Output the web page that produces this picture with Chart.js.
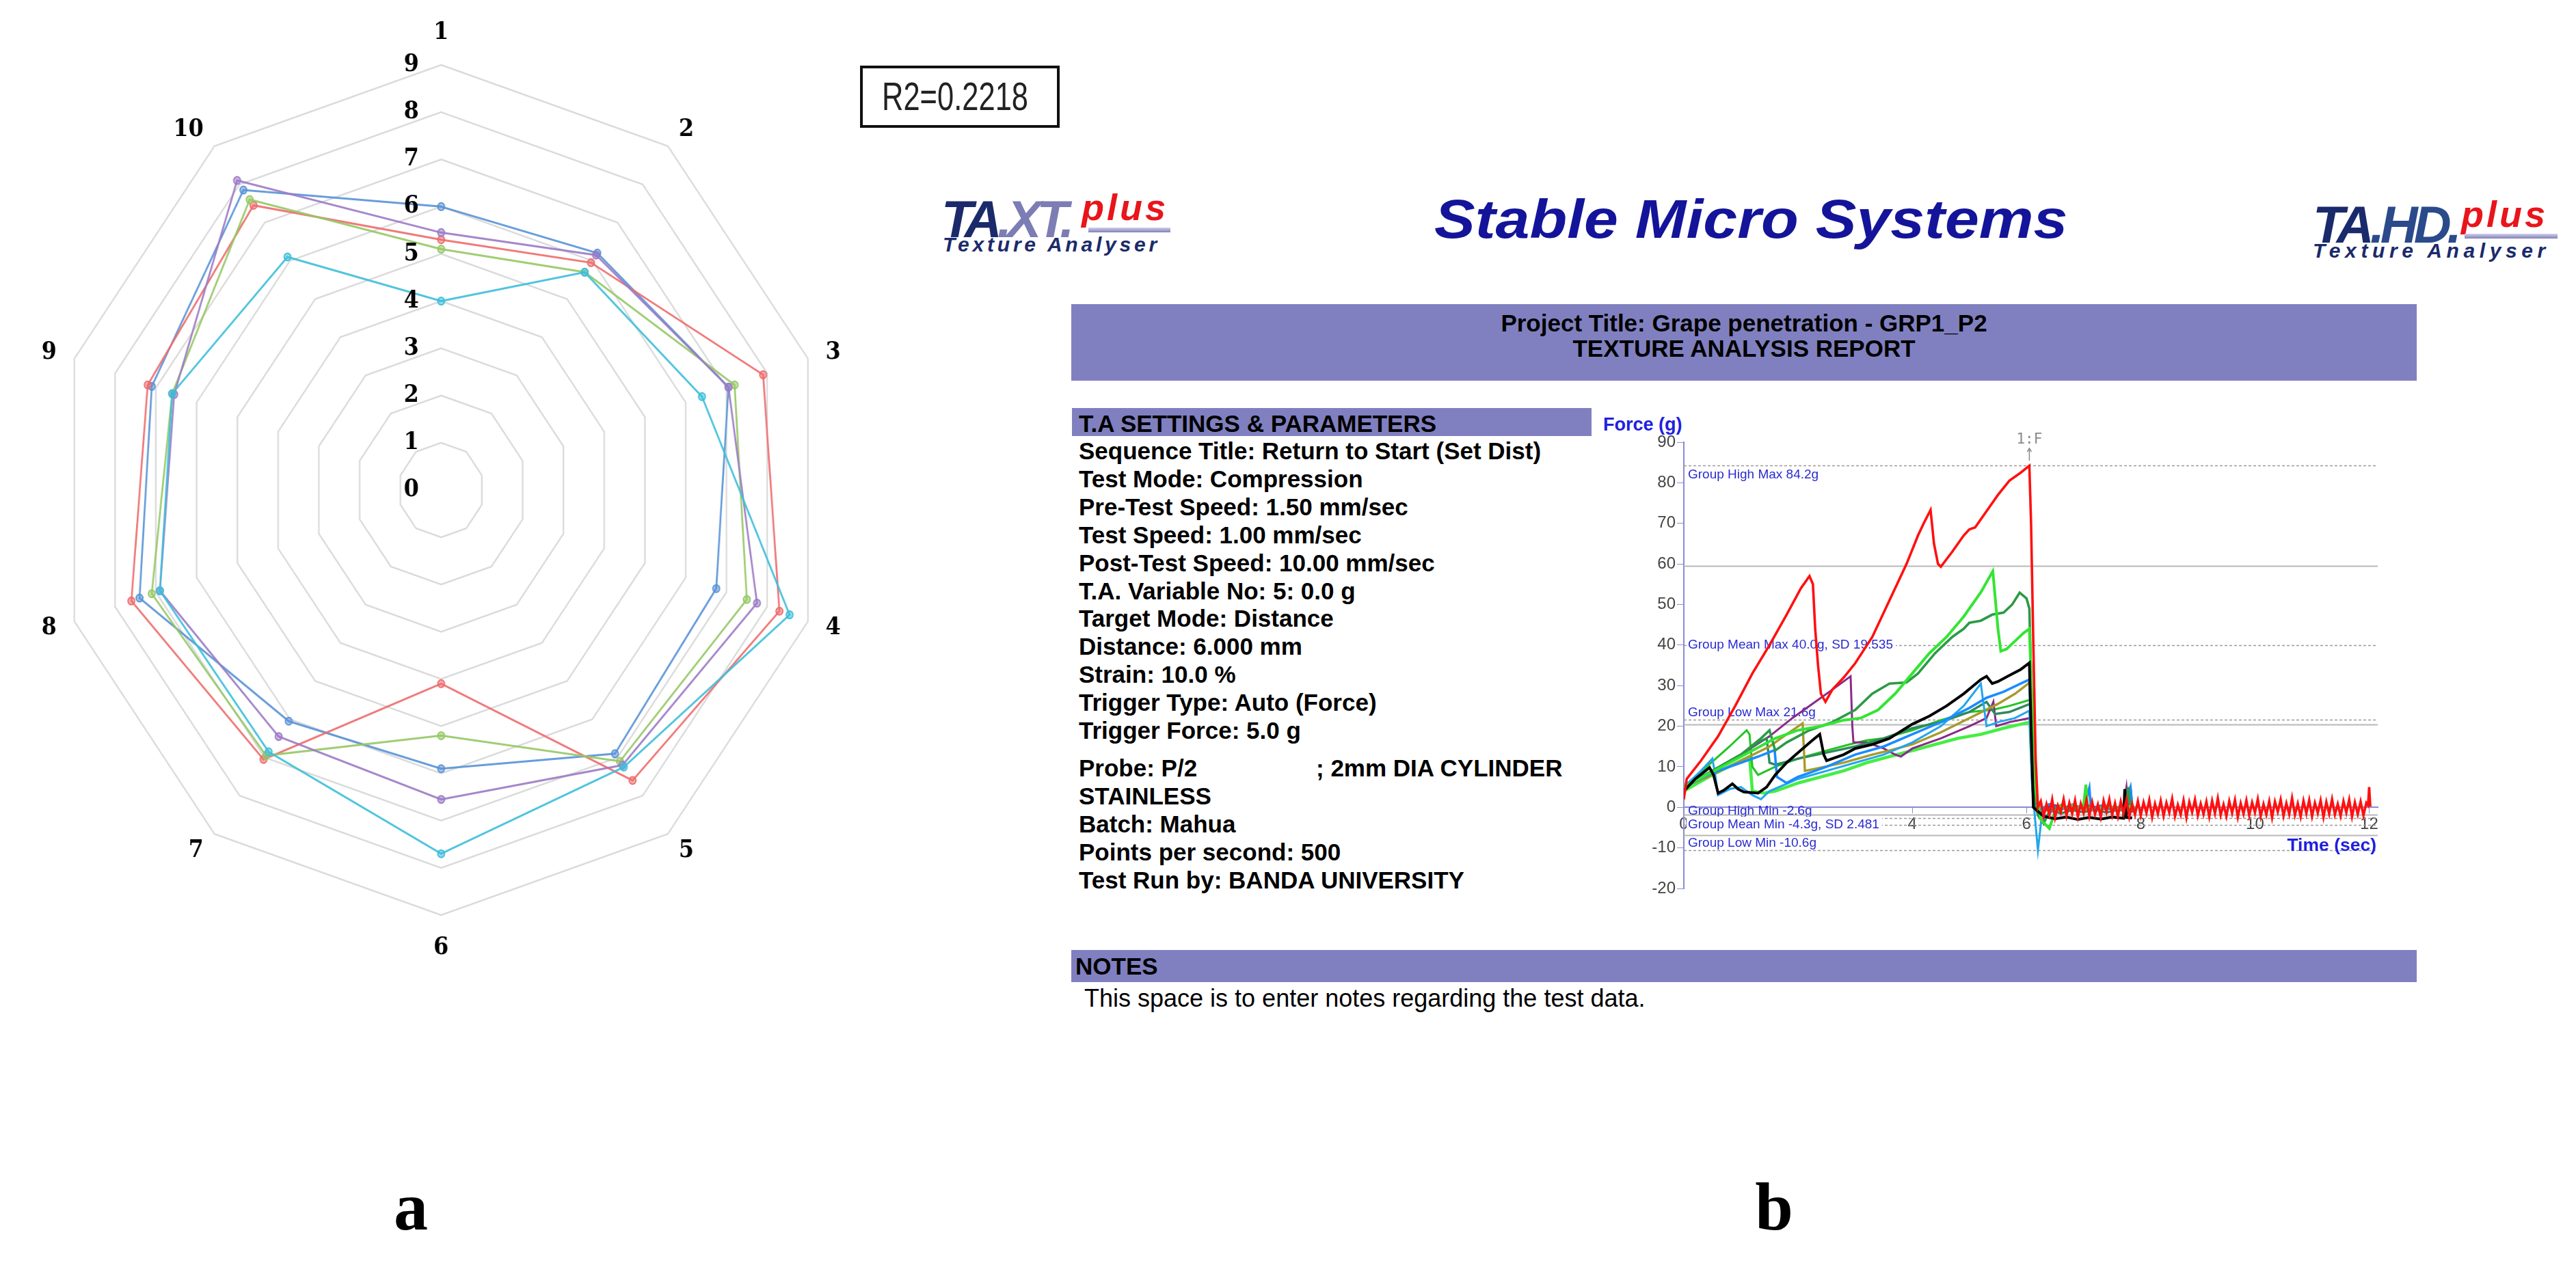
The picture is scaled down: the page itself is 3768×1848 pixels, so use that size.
<!DOCTYPE html>
<html><head><meta charset="utf-8">
<script src="https://cdn.jsdelivr.net/npm/chart.js@4.4.1/dist/chart.umd.min.js"></script>
<style>
html,body{margin:0;padding:0;background:#fff;}
body{width:3768px;height:1848px;position:relative;overflow:hidden;font-family:"Liberation Sans",Arial,sans-serif;}
.abs{position:absolute;white-space:pre;}
.bar{position:absolute;background:#8080c0;}
.set{position:absolute;left:1578px;font:bold 35px "Liberation Sans",Arial,sans-serif;color:#000;white-space:pre;}
</style></head><body>

<!-- panel a -->
<canvas id="radar" width="1500" height="1404" style="position:absolute;left:-35px;top:15px;transform:scaleX(0.907);transform-origin:0 0;"></canvas>
<div class="abs" style="left:1258px;top:96px;width:292px;height:91px;border:4px solid #111;box-sizing:border-box;"></div>
<div class="abs" style="left:1290px;top:106px;font:58px 'Liberation Sans',Arial,sans-serif;line-height:70px;color:#222;transform:scaleX(0.75);transform-origin:0 0;">R2=0.2218</div>
<div class="abs" style="left:501px;top:1716px;width:200px;text-align:center;font:bold 100px 'Liberation Serif',serif;line-height:100px;">a</div>
<div class="abs" style="left:2495px;top:1716px;width:200px;text-align:center;font:bold 100px 'Liberation Serif',serif;line-height:100px;">b</div>

<!-- panel b header -->
<div class="abs" style="left:1377px;top:283px;font:italic bold 76px 'Liberation Sans',Arial,sans-serif;letter-spacing:-7px;line-height:76px;color:#1b2a6b;">TA<span style="color:#7d7db5">.XT.</span></div>
<div class="abs" style="left:1582px;top:276px;font:italic bold 54px 'Liberation Sans',Arial,sans-serif;letter-spacing:4px;line-height:54px;color:#e8151b;">plus</div>
<div class="abs" style="left:1592px;top:333px;width:120px;height:7px;background:linear-gradient(#d0d0ee,#8080b4);"></div>
<div class="abs" style="left:1379px;top:343px;font:italic bold 30px 'Liberation Sans',Arial,sans-serif;letter-spacing:4.8px;line-height:30px;color:#1b2a6b;">Texture Analyser</div>

<div class="abs" style="left:2098px;top:281px;font:italic bold 80px 'Liberation Sans',Arial,sans-serif;line-height:80px;color:#14149a;transform:scaleX(1.12);transform-origin:0 0;">Stable Micro Systems</div>

<div class="abs" style="left:3383px;top:291px;font:italic bold 76px 'Liberation Sans',Arial,sans-serif;letter-spacing:-6px;line-height:76px;color:#1b2a6b;">TA<span style="color:#2b4a8b">.HD.</span></div>
<div class="abs" style="left:3600px;top:286px;font:italic bold 54px 'Liberation Sans',Arial,sans-serif;letter-spacing:4px;line-height:54px;color:#e8151b;">plus</div>
<div class="abs" style="left:3605px;top:342px;width:136px;height:7px;background:linear-gradient(#d0d0ee,#8080b4);"></div>
<div class="abs" style="left:3383px;top:352px;font:italic bold 30px 'Liberation Sans',Arial,sans-serif;letter-spacing:6.6px;line-height:30px;color:#1b2a6b;">Texture Analyser</div>

<div class="bar" style="left:1567px;top:445px;width:1968px;height:112px;"></div>
<div class="abs" style="left:1567px;top:454px;width:1968px;text-align:center;font:bold 35px 'Liberation Sans',Arial,sans-serif;line-height:37px;color:#000;">Project Title: Grape penetration - GRP1_P2
TEXTURE ANALYSIS REPORT</div>

<div class="bar" style="left:1568px;top:597px;width:760px;height:41px;"></div>
<div class="set" style="top:599px;line-height:41px;">T.A SETTINGS &amp; PARAMETERS</div>
<div class="set" style="top:640px;line-height:40.9px;">Sequence Title: Return to Start (Set Dist)
Test Mode: Compression
Pre-Test Speed: 1.50 mm/sec
Test Speed: 1.00 mm/sec
Post-Test Speed: 10.00 mm/sec
T.A. Variable No: 5: 0.0 g
Target Mode: Distance
Distance: 6.000 mm
Strain: 10.0 %
Trigger Type: Auto (Force)
Trigger Force: 5.0 g</div>
<div class="set" style="top:1103px;line-height:41px;">Probe: P/2
STAINLESS
Batch: Mahua
Points per second: 500
Test Run by: BANDA UNIVERSITY</div>
<div class="set" style="left:1925px;top:1103px;line-height:41px;">; 2mm DIA CYLINDER</div>

<div class="abs" style="left:2345px;top:605px;font:bold 27px 'Liberation Sans',Arial,sans-serif;line-height:32px;color:#2020e0;">Force (g)</div>
<canvas id="force" width="1170" height="700" style="position:absolute;left:2330px;top:620px;"></canvas>
<div class="abs" style="left:3336px;top:1220px;width:140px;text-align:right;font:bold 26.5px 'Liberation Sans',Arial,sans-serif;line-height:32px;color:#2020e0;">Time (sec)</div>

<div class="bar" style="left:1567px;top:1390px;width:1968px;height:47px;"></div>
<div class="abs" style="left:1573px;top:1393px;font:bold 35px 'Liberation Sans',Arial,sans-serif;line-height:41px;color:#000;">NOTES</div>
<div class="abs" style="left:1586px;top:1440px;font:36px 'Liberation Sans',Arial,sans-serif;line-height:42px;color:#000;">This space is to enter notes regarding the test data.</div>

<script>
// ---------- Panel a: radar data ----------
const radarAxes = ['1','2','3','4','5','6','7','8','9','10'];
const radarTicks = [0,1,2,3,4,5,6,7,8,9];
const seriesBlue   = [6.0, 6.2, 7.05, 6.75, 6.9, 5.9, 6.05, 7.4, 7.1, 7.85];
const seriesRed    = [5.3, 5.95, 7.9, 8.3, 7.6, 4.1, 7.05, 7.6, 7.2, 7.45];
const seriesGreen  = [5.1, 5.7, 7.2, 7.5, 7.1, 5.2, 6.95, 7.1, 6.6, 7.6];
const seriesPurple = [5.45, 6.15, 7.05, 7.75, 7.2, 6.55, 6.45, 6.9, 6.55, 8.1];
const seriesCyan   = [4.0, 5.7, 6.4, 8.55, 7.25, 7.7, 6.85, 6.9, 6.6, 6.1];

// ---------- Panel b: force-time curves [time s, force g] ----------
const curveRed = [[0,2],[0.05,7],[0.3,11.5],[0.6,17.5],[0.9,25],[1.2,33],[1.5,40],[1.8,47.5],[2.05,54],[2.2,57],[2.26,55],[2.3,44],[2.35,35],[2.4,28],[2.48,26],[2.6,29],[2.8,32],[3.0,35.5],[3.3,42],[3.6,51],[3.9,60],[4.1,67],[4.2,70],[4.32,73.3],[4.38,65],[4.45,60],[4.5,59.3],[4.7,63],[4.9,67],[5.0,68.5],[5.1,69],[5.3,73],[5.5,77],[5.7,80.5],[5.9,82.5],[6.05,84.2],[6.08,70],[6.12,40],[6.16,12],[6.2,0]];
const redTail = [[6.25,1.5],[6.3,-2.2],[6.35,0.8],[6.4,-1.8],[6.45,1.9],[6.5,-2.5],[6.55,0.5],[6.6,-1.2],[6.65,2.0],[6.7,-2.0],[6.75,1.1],[6.8,-1.6],[6.85,1.7],[6.9,-2.3],[6.95,0.9],[7.0,-1.4],[7.05,1.8],[7.1,-2.1],[7.15,1.3],[7.2,-1.7],[7.25,0.7],[7.3,-2.4],[7.35,1.6],[7.4,-1.1],[7.45,2.0],[7.5,-1.9],[7.55,1.0],[7.6,-2.2],[7.65,1.4],[7.7,-1.5],[7.75,1.9],[7.8,-2.3],[7.85,0.8],[7.9,-1.8],[7.95,1.5],[8.0,-2.0],[8.05,1.2],[8.1,-1.4],[8.15,1.8],[8.2,-2.4],[8.25,0.9],[8.3,-1.6],[8.35,1.6],[8.4,-2.1],[8.45,1.1],[8.5,-1.3],[8.55,2.1],[8.6,-2.2],[8.65,0.6],[8.7,-1.8],[8.75,1.7],[8.8,-2.5],[8.85,1.3],[8.9,-1.2],[8.95,1.9],[9.0,-2.0],[9.05,0.9],[9.1,-1.7],[9.15,1.4],[9.2,-2.3],[9.25,1.6],[9.3,-1.5],[9.35,2.2],[9.4,-1.9],[9.45,0.7],[9.5,-2.2],[9.55,1.5],[9.6,-1.4],[9.65,1.8],[9.7,-2.4],[9.75,1.0],[9.8,-1.6],[9.85,1.7],[9.9,-2.0],[9.95,1.2],[10.0,-1.3],[10.05,2.0],[10.1,-2.2],[10.15,0.8],[10.2,-1.8],[10.25,1.5],[10.3,-2.5],[10.35,1.4],[10.4,-1.1],[10.45,1.9],[10.5,-2.1],[10.55,1.0],[10.6,-1.7],[10.65,2.3],[10.7,-1.9],[10.75,0.9],[10.8,-2.3],[10.85,1.6],[10.9,-1.5],[10.95,1.8],[11.0,-2.2],[11.05,1.1],[11.1,-1.4],[11.15,1.7],[11.2,-2.4],[11.25,1.3],[11.3,-1.6],[11.35,2.0],[11.4,-1.8],[11.45,0.8],[11.5,-2.1],[11.55,1.5],[11.6,-1.3],[11.65,1.9],[11.7,-2.3],[11.75,1.2],[11.8,-1.7],[11.85,1.4],[11.9,-2.0],[11.95,1.1],[11.98,0.5],[12.0,5.0],[12.02,0.2]];
const curveLime = [[0,5],[0.4,8],[0.8,11],[1.2,14],[1.6,17],[2.0,19],[2.4,20],[2.8,21.5],[3.1,22],[3.4,24],[3.7,28],[4.0,33],[4.3,38],[4.6,42],[4.9,47],[5.2,53],[5.41,58.2],[5.45,52],[5.5,44],[5.55,38.5],[5.65,39],[5.8,41],[5.95,43],[6.05,44],[6.1,25],[6.15,5],[6.25,-3],[6.4,-5.2],[6.5,-1],[6.6,0.5],[6.7,-0.5],[6.8,0.5],[6.9,-0.3],[7.0,0.6],[7.04,5.6],[7.07,0],[7.2,-0.5],[7.4,0.3],[7.6,-0.4],[7.8,0.2],[7.9,0]];
const curveDarkGreen = [[0,5],[0.5,9],[1.0,13],[1.35,17],[1.5,19],[1.6,14],[1.8,16],[2.2,19],[2.6,21],[3.0,24],[3.3,28],[3.6,30.5],[3.9,30.8],[4.1,33],[4.4,38],[4.7,42],[4.9,44],[5.0,45.5],[5.2,46],[5.4,47.5],[5.6,48],[5.75,50],[5.88,52.9],[6.0,51.5],[6.05,49],[6.1,20],[6.15,2],[6.2,-2],[6.3,-4],[6.4,-1],[6.6,0.5],[6.8,-0.8],[7.0,0.4],[7.2,-0.6],[7.4,0.3],[7.6,-0.5],[7.75,0],[7.78,5],[7.82,-0.5],[7.9,0]];
const curveBlack = [[0,4],[0.2,7],[0.45,9.8],[0.52,8],[0.6,3.5],[0.7,4.2],[0.85,5.8],[0.95,4.5],[1.05,3.8],[1.3,3.5],[1.45,5],[1.6,8],[1.8,11],[2.0,13.5],[2.25,16.5],[2.38,18],[2.45,13],[2.5,11.5],[2.8,13],[3.0,14.5],[3.3,15.5],[3.6,17],[4.0,20.5],[4.3,22.5],[4.6,25],[4.9,28],[5.2,31.5],[5.3,32.3],[5.4,30.5],[5.5,31],[5.7,32.5],[5.9,34],[6.05,35.6],[6.08,20],[6.12,0],[6.3,-2.2],[6.5,-2.8],[6.7,-2.4],[6.9,-3],[7.1,-2.5],[7.3,-2.9],[7.5,-2.4],[7.7,-2.7],[7.72,4.5],[7.75,-2.5],[7.85,-2.6]];
const curveBlue = [[0,5],[0.5,8.5],[1.0,11],[1.3,12.5],[1.59,14.1],[1.63,7.5],[1.8,6],[2.0,7.5],[2.5,10],[3.0,13],[3.5,15],[4.0,18],[4.5,21],[5.0,24.5],[5.3,27],[5.6,28.5],[5.9,30.5],[6.05,31.5],[6.1,10],[6.15,0],[6.2,-1],[6.4,0.8],[6.6,-0.6],[6.8,0.7],[7.0,-0.4],[7.1,4.8],[7.13,-0.5],[7.3,0.4],[7.5,-0.6],[7.7,0.3],[7.82,5],[7.85,0],[7.9,-0.3]];
const curveSky = [[0,5],[0.3,9],[0.5,12],[0.55,8],[0.6,3],[0.8,4.5],[1.0,5],[1.2,3],[1.35,2],[1.5,4],[2.0,7],[2.5,9],[3.0,11],[3.5,13],[4.0,16],[4.5,20],[4.9,25],[5.2,30.5],[5.3,20],[5.5,21],[5.8,22],[6.05,23.8],[6.1,5],[6.2,-10.6],[6.26,-3],[6.4,-1.5],[6.6,0.3],[6.8,-0.8],[7.0,0.2],[7.2,-1],[7.4,0],[7.6,-0.8],[7.75,0.3],[7.9,-0.5]];
const curveOlive = [[0,5],[0.5,8],[1.0,11.5],[1.5,15],[1.8,18],[2.08,20.7],[2.12,9],[2.3,9.5],[2.8,11],[3.3,13],[3.6,14],[4.0,15.5],[4.5,18.5],[5.0,22],[5.5,25.5],[5.8,28],[6.06,30.8],[6.1,10],[6.15,0],[6.2,0],[6.5,-0.8],[6.8,0.4],[7.1,-0.6],[7.4,0.3],[7.7,-0.5],[7.9,0]];
const curveTeal = [[0,5],[0.5,9],[1.0,13],[1.3,16],[1.45,17],[1.5,11],[1.6,10.5],[2.0,12],[2.5,13.5],[3.0,15],[3.5,17],[4.0,19.5],[4.5,21],[5.0,23.5],[5.3,26],[5.45,23],[5.7,23.5],[6.06,25.5],[6.1,8],[6.15,0],[6.2,-1.5],[6.4,-0.5],[6.6,-1.5],[6.8,-0.7],[7.0,-1.2],[7.2,-0.5],[7.4,-1.3],[7.6,-0.6],[7.8,-1],[7.82,5],[7.86,-1],[7.9,-0.8]];
const curvePurple = [[0,5],[0.5,9],[1.0,13],[1.5,17.5],[1.9,22],[2.3,26],[2.6,29],[2.92,32.3],[2.95,20],[2.97,16],[3.2,16],[3.5,14.5],[3.7,13],[3.8,12.5],[4.0,14.5],[4.5,17],[5.0,20],[5.3,22],[5.42,26],[5.47,20],[5.7,21],[6.06,22],[6.1,5],[6.15,0],[6.2,-0.5],[6.5,0.5],[6.8,-0.3],[7.1,0.4],[7.4,-0.5],[7.7,0.3],[7.75,5],[7.78,0],[7.9,-0.2]];
const curveLimeLow = [[0,4],[0.5,8],[1.0,11.5],[1.15,12.5],[1.2,4],[1.4,3.5],[1.6,4],[1.8,5],[2.0,6],[2.4,7.5],[2.8,9],[3.2,11],[3.6,12.5],[4.0,14],[4.4,15.5],[4.8,17],[5.2,18],[5.6,19.5],[6.06,21],[6.1,8],[6.15,0],[6.2,0],[6.5,-0.8],[6.8,0.4],[7.1,-0.6],[7.4,0.3],[7.7,-0.5],[7.9,0]];
const curveGreen = [[0,5],[0.4,10],[0.8,15],[1.1,19],[1.15,18],[1.2,10],[1.3,8],[1.6,10],[2.0,12],[2.5,14],[2.9,15.5],[3.2,16.5],[3.5,17],[4.0,19],[4.5,21.5],[5.0,23.5],[5.4,24],[5.7,25],[6.06,26.5],[6.1,8],[6.15,0],[6.2,0.3],[6.5,-0.6],[6.8,0.5],[7.1,-0.4],[7.4,0.4],[7.7,-0.6],[7.9,0]];

const statLabels = ['Group High Max 84.2g','Group Mean Max 40.0g, SD 19.535','Group Low Max 21.6g','Group High Min -2.6g','Group Mean Min -4.3g, SD 2.481','Group Low Min -10.6g'];
const statValues = [84.2, 40.0, 21.6, -2.6, -4.3, -10.6];
const sdBandValues = [59.535, 20.465, -1.819, -6.781];
const markerText = '1:F';
const markerTime = 6.05;

// ---------- radar chart ----------
const radarTextPlugin = {
  id: 'radarText',
  afterDatasetsDraw(chart) {
    const s = chart.scales.r, ctx = chart.ctx;
    ctx.save();
    ctx.font = 'bold 35px "DejaVu Serif", serif';
    ctx.fillStyle = '#000';
    // value ticks, left of the vertical axis
    ctx.textAlign = 'right';
    ctx.textBaseline = 'middle';
    radarTicks.forEach(v => {
      ctx.fillText(String(v), s.xCenter - 36, s.yCenter - s.getDistanceFromCenterForValue(v));
    });
    // category labels, centred on the spoke direction (Excel style)
    chart.data.labels.forEach((lab, i) => {
      const deg = Math.round(s.getIndexAngle(i) * 180 / Math.PI) % 360;
      const p = s.getPointPosition(i, s.drawingArea + 30);
      let align = 'center', base = 'middle';
      if (deg === 0) base = 'bottom';
      else if (deg === 180) base = 'top';
      else if (deg < 180) align = 'left';
      else align = 'right';
      ctx.textAlign = align; ctx.textBaseline = base;
      ctx.fillText(lab, p.x, p.y);
    });
    ctx.restore();
  }
};
function rds(label, data, rgb) {
  return {label, data, borderColor: 'rgba(' + rgb + ',0.9)', backgroundColor: 'rgba(' + rgb + ',0)',
    borderWidth: 3, pointRadius: 5.5, pointBorderWidth: 2, pointBorderColor: 'rgba(' + rgb + ',0.95)',
    pointBackgroundColor: 'rgba(' + rgb + ',0.55)', fill: false};
}
new Chart(document.getElementById('radar'), {
  type: 'radar',
  data: { labels: radarAxes, datasets: [
    rds('S5', seriesCyan, '60,190,218'),
    rds('S4', seriesPurple, '155,122,196'),
    rds('S3', seriesGreen, '150,200,100'),
    rds('S2', seriesRed, '238,108,108'),
    rds('S1', seriesBlue, '88,146,214')
  ]},
  options: {
    responsive: false, devicePixelRatio: 1, animation: false,
    plugins: { legend: {display: false}, tooltip: {enabled: false} },
    layout: { padding: 80 },
    scales: { r: {
      min: 0, max: 9, beginAtZero: true,
      ticks: { display: false, stepSize: 1 },
      grid: { color: '#dadada', lineWidth: 2.5 },
      angleLines: { display: false },
      pointLabels: { display: false }
    }}
  },
  plugins: [radarTextPlugin]
});

// ---------- force-time chart ----------
const toXY = arr => arr.map(p => ({x: p[0], y: p[1]}));
const statPlacement = ['below','center','above','above','center','above'];
const forcePlugin = {
  id: 'forceAnno',
  beforeDatasetsDraw(chart) {
    const ctx = chart.ctx, xs = chart.scales.x, ys = chart.scales.y, a = chart.chartArea;
    const x0 = xs.getPixelForValue(0);
    ctx.save();
    sdBandValues.forEach(v => {
      const y = Math.round(ys.getPixelForValue(v)) + 0.5;
      ctx.strokeStyle = '#b8b8b8'; ctx.lineWidth = 2; ctx.setLineDash([]);
      ctx.beginPath(); ctx.moveTo(x0, y); ctx.lineTo(a.right, y); ctx.stroke();
    });
    statValues.forEach(v => {
      const y = Math.round(ys.getPixelForValue(v)) + 0.5;
      ctx.strokeStyle = '#9a9a9a'; ctx.lineWidth = 1.6; ctx.setLineDash([4, 3]);
      ctx.beginPath(); ctx.moveTo(x0, y); ctx.lineTo(a.right, y); ctx.stroke();
    });
    ctx.setLineDash([]);
    ctx.font = '19px "Liberation Sans", Arial, sans-serif';
    statLabels.forEach((t, i) => {
      const y = ys.getPixelForValue(statValues[i]);
      const w = ctx.measureText(t).width;
      const x = x0 + 6;
      let cy;
      if (statPlacement[i] === 'below') cy = y + 13;
      else if (statPlacement[i] === 'above') cy = y - 10;
      else cy = y;
      if (statPlacement[i] === 'center') { ctx.fillStyle = '#fff'; ctx.fillRect(x - 2, cy - 12, w + 6, 24); }
      ctx.fillStyle = '#2a2ad2'; ctx.textAlign = 'left'; ctx.textBaseline = 'middle';
      ctx.fillText(t, x, cy);
    });
    ctx.restore();
  },
  afterDraw(chart) {
    const ctx = chart.ctx, xs = chart.scales.x, a = chart.chartArea;
    const x = xs.getPixelForValue(markerTime);
    ctx.save();
    ctx.fillStyle = '#8a8a8a'; ctx.strokeStyle = '#8a8a8a'; ctx.lineWidth = 1.5;
    ctx.font = '21px "DejaVu Sans Mono", monospace'; ctx.textAlign = 'center'; ctx.textBaseline = 'middle';
    ctx.fillText(markerText, x, a.top - 3);
    ctx.beginPath(); ctx.moveTo(x, a.top + 9); ctx.lineTo(x, a.top + 27); ctx.stroke();
    ctx.beginPath(); ctx.moveTo(x - 3, a.top + 14); ctx.lineTo(x, a.top + 9); ctx.lineTo(x + 3, a.top + 14); ctx.stroke();
    ctx.restore();
  }
};
function lds(data, color, w) {
  return {data: toXY(data), borderColor: color, borderWidth: w, pointRadius: 0, fill: false, tension: 0};
}
new Chart(document.getElementById('force'), {
  type: 'line',
  data: { datasets: [
    lds(curveRed.concat(redTail), '#ff1010', 3.6),
    lds(curveBlack, '#000000', 4),
    lds(curveLime, '#33e533', 4),
    lds(curveDarkGreen, '#2c9a45', 3.6),
    lds(curveBlue, '#1a8cff', 3.6),
    lds(curveSky, '#22a6ee', 3),
    lds(curveOlive, '#a89a2a', 3.4),
    lds(curveTeal, '#2f8a5c', 3.4),
    lds(curvePurple, '#8a2a8a', 3),
    lds(curveGreen, '#22c422', 3),
    lds(curveLimeLow, '#44ee44', 4.6)
  ]},
  options: {
    responsive: false, devicePixelRatio: 1, animation: false, parsing: true,
    plugins: { legend: {display: false}, tooltip: {enabled: false} },
    layout: { padding: { top: 27, bottom: 20, right: 22, left: 0 } },
    scales: {
      x: { type: 'linear', axis: 'x', min: 0, max: 12.15, position: { y: 0 },
        ticks: { stepSize: 2, includeBounds: false, autoSkip: false, maxRotation: 0, color: '#444', padding: 3,
          font: { size: 24, family: 'Liberation Sans' } },
        grid: { drawOnChartArea: false, color: '#8a8ad8', tickLength: 8 },
        border: { display: true, color: '#8a8ad8', width: 2 } },
      y: { type: 'linear', min: -20, max: 90,
        ticks: { stepSize: 10, color: '#444', padding: 2, font: { size: 24, family: 'Liberation Sans' } },
        grid: { drawOnChartArea: false, color: '#8a8ad8', tickLength: 10 },
        border: { display: true, color: '#8a8ad8', width: 2 },
        afterFit(s) { s.width = 133; } }
    }
  },
  plugins: [forcePlugin]
});
</script>
</body></html>
